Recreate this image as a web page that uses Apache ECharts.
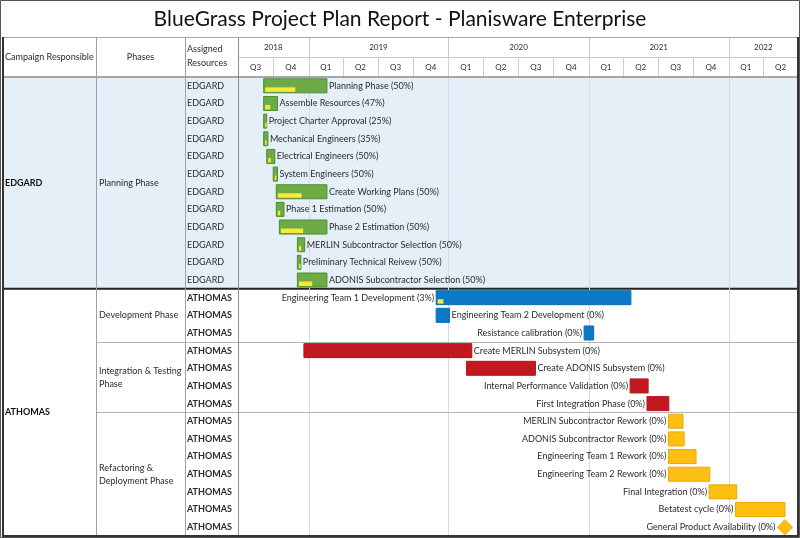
<!DOCTYPE html>
<html><head><meta charset="utf-8">
<script src="https://cdn.jsdelivr.net/npm/echarts@6/dist/echarts.min.js"></script>
<style>html,body{margin:0;padding:0;background:#fff}#main{width:800px;height:538px}</style>
</head><body><div id="main"></div>
<script>
// ---------------- DATA ----------------
const chartTitle = 'BlueGrass Project Plan Report - Planisware Enterprise';
const headerLabels = ['Campaign Responsible', 'Phases', 'Assigned\nResources'];
const taskNames = ['Planning Phase','Assemble Resources','Project Charter Approval','Mechanical Engineers','Electrical Engineers','System Engineers','Create Working Plans','Phase 1 Estimation','Phase 2 Estimation','MERLIN Subcontractor Selection','Preliminary Technical Reivew','ADONIS Subcontractor Selection','Engineering Team 1 Development','Engineering Team 2 Development','Resistance calibration','Create MERLIN Subsystem','Create ADONIS Subsystem','Internal Performance Validation','First Integration Phase','MERLIN Subcontractor Rework','ADONIS Subcontractor Rework','Engineering Team 1 Rework','Engineering Team 2 Rework','Final Integration','Betatest cycle','General Product Availability'];
const resources = ['EDGARD','EDGARD','EDGARD','EDGARD','EDGARD','EDGARD','EDGARD','EDGARD','EDGARD','EDGARD','EDGARD','EDGARD','ATHOMAS','ATHOMAS','ATHOMAS','ATHOMAS','ATHOMAS','ATHOMAS','ATHOMAS','ATHOMAS','ATHOMAS','ATHOMAS','ATHOMAS','ATHOMAS','ATHOMAS','ATHOMAS'];
const startDates = ['2018-09-06','2018-09-06','2018-09-06','2018-09-06','2018-09-14','2018-10-01','2018-10-09','2018-10-09','2018-10-17','2018-12-03','2018-12-03','2018-12-03','2019-11-30','2019-11-30','2020-12-20','2018-12-20','2020-02-17','2021-04-19','2021-06-02','2021-07-28','2021-07-28','2021-07-28','2021-07-28','2021-11-11','2022-01-19','2022-05-28'];
const endDates = ['2019-02-18','2018-10-12','2018-09-13','2018-09-17','2018-10-05','2018-10-12','2019-02-18','2018-10-29','2019-02-18','2018-12-22','2018-12-12','2019-02-18','2021-04-21','2020-01-04','2021-01-14','2020-03-02','2020-08-15','2021-06-05','2021-07-29','2021-09-04','2021-09-07','2021-10-08','2021-11-13','2022-01-22','2022-05-28','2022-05-28'];
const progress = [50,47,25,35,50,50,50,50,50,50,50,50,3,0,0,0,0,0,0,0,0,0,0,0,0,0];
const phaseNames = ['Planning Phase','Development Phase','Integration & Testing\nPhase','Refactoring &\nDeployment Phase'];
const phaseFirstRow = [0, 12, 15, 19];
const phaseLastRow = [11, 14, 18, 25];
const campaigns = ['EDGARD', 'ATHOMAS'];
const campaignFirstRow = [0, 12];
const campaignLastRow = [11, 25];
const yearLabels = ['2018','2019','2020','2021','2022'];
const yearStarts = ['2018-07-01','2019-01-01','2020-01-01','2021-01-01','2022-01-01'];
const yearEnds = ['2019-01-01','2020-01-01','2021-01-01','2022-01-01','2022-07-01'];
const quarterLabels = ['Q3','Q4','Q1','Q2','Q3','Q4','Q1','Q2','Q3','Q4','Q1','Q2','Q3','Q4','Q1','Q2'];
const quarterStarts = ['2018-07-01','2018-10-01','2019-01-01','2019-04-01','2019-07-01','2019-10-01','2020-01-01','2020-04-01','2020-07-01','2020-10-01','2021-01-01','2021-04-01','2021-07-01','2021-10-01','2022-01-01','2022-04-01'];
const quarterEnds = ['2018-10-01','2019-01-01','2019-04-01','2019-07-01','2019-10-01','2020-01-01','2020-04-01','2020-07-01','2020-10-01','2021-01-01','2021-04-01','2021-07-01','2021-10-01','2022-01-01','2022-04-01','2022-07-01'];
const timeMin = '2018-07-01';
const timeMax = '2022-07-01';

// ---------------- STYLE ----------------
const FONT = 'Lato';
const TXT = '#2b2b2b';
const phaseFill = ['#6dab47', '#0b79c4', '#c2181f', '#fdbf12'];
const phaseStroke = ['#4e8c30', '#0a6db0', '#b5141b', '#eaa900'];
const progressFill = '#f7e93a';
const campaignBg = ['#e4eff7', '#ffffff'];
const rightLabelRows = [0,1,2,3,4,5,6,7,8,9,10,11,13,15,16];
const COL = {left: 3, phase: 96, res: 185, time: 238, right: 798};

const ts = d => Date.parse(d + 'T00:00:00Z');
function phaseOf(row) { for (let i = 0; i < phaseFirstRow.length; i++) if (row >= phaseFirstRow[i] && row <= phaseLastRow[i]) return i; return 0; }

const chart = echarts.init(document.getElementById('main'), null, {renderer: 'canvas'});

const taskData = taskNames.map((n, i) => [i, ts(startDates[i]), ts(endDates[i]), progress[i], i]);

const option = {
  animation: false,
  backgroundColor: '#ffffff',
  title: {text: chartTitle, left: 'center', top: 4, textStyle: {fontFamily: FONT, fontSize: 21, fontWeight: 'normal', color: '#111'}},
  grid: [
    {left: COL.time, right: 800 - COL.right, top: 77, bottom: 2},
    {left: COL.time, right: 800 - COL.right, top: 37, height: 40}
  ],
  xAxis: [
    {type: 'time', gridIndex: 0, min: ts(timeMin), max: ts(timeMax), show: false},
    {type: 'time', gridIndex: 1, min: ts(timeMin), max: ts(timeMax), show: false}
  ],
  yAxis: [
    {type: 'category', gridIndex: 0, inverse: true, z: 60, data: taskNames.map((n, i) => String(i)),
     axisLine: {show: false}, axisTick: {show: false}, splitLine: {show: false},
     axisLabel: {interval: 0, margin: COL.time - COL.res - 2, align: 'left', fontFamily: FONT, fontSize: 9, color: TXT,
       formatter: (v, i) => resources[i] === 'ATHOMAS' ? '{b|' + resources[i] + '}' : resources[i],
       rich: {b: {fontFamily: FONT, fontSize: 9, fontWeight: 'bold', color: TXT}}}},
    {type: 'value', gridIndex: 1, min: 0, max: 2, show: false}
  ],
  series: [
    { // campaign bands
      type: 'custom', xAxisIndex: 0, yAxisIndex: 0, z: 1, silent: true,
      data: campaigns.map((c, i) => [campaignFirstRow[i], campaignLastRow[i], i]),
      encode: {y: [0, 1]},
      renderItem(params, api) {
        const i = api.value(2);
        const band = api.size([0, 1])[1];
        const y0 = api.coord([ts(timeMin), api.value(0)])[1] - band / 2;
        const y1 = api.coord([ts(timeMin), api.value(1)])[1] + band / 2;
        const children = [
          {type: 'rect', shape: {x: COL.left + 1, y: y0, width: COL.right - COL.left - 1, height: y1 - y0}, style: {fill: campaignBg[i]}},
          {type: 'text', style: {text: campaigns[i], x: COL.left + 2, y: (y0 + y1) / 2, verticalAlign: 'middle', fontFamily: FONT, fontSize: 9, fontWeight: 'bold', fill: '#111'}}
        ];
        if (i > 0) children.push({type: 'line', shape: {x1: COL.left, y1: y0, x2: COL.right, y2: y0}, style: {stroke: '#222', lineWidth: 2}, z2: 50});
        return {type: 'group', children};
      }
    },
    { // year gridlines
      type: 'custom', xAxisIndex: 0, yAxisIndex: 0, z: 2, silent: true,
      data: yearStarts.slice(1).map(d => [ts(d)]),
      encode: {x: 0},
      renderItem(params, api) {
        const x = Math.round(api.coord([api.value(0), 0])[0]) + 0.5;
        const cs = params.coordSys;
        return {type: 'line', shape: {x1: x, y1: cs.y, x2: x, y2: cs.y + cs.height}, style: {stroke: '#dadada', lineWidth: 1}};
      }
    },
    { // phases
      type: 'custom', xAxisIndex: 0, yAxisIndex: 0, z: 3, silent: true,
      data: phaseNames.map((p, i) => [phaseFirstRow[i], phaseLastRow[i], i]),
      encode: {y: [0, 1]},
      renderItem(params, api) {
        const i = api.value(2);
        const band = api.size([0, 1])[1];
        const y0 = api.coord([ts(timeMin), api.value(0)])[1] - band / 2;
        const y1 = api.coord([ts(timeMin), api.value(1)])[1] + band / 2;
        const children = [
          {type: 'text', style: {text: phaseNames[i], x: COL.phase + 3, y: (y0 + y1) / 2, verticalAlign: 'middle', lineHeight: 13, fontFamily: FONT, fontSize: 9, fill: TXT}}
        ];
        if (i > 0 && campaignFirstRow.indexOf(api.value(0)) < 0) {
          const yy = Math.round(y0) + 0.5;
          children.push({type: 'line', shape: {x1: COL.phase, y1: yy, x2: COL.right, y2: yy}, style: {stroke: '#b4b4b4', lineWidth: 1}});
        }
        return {type: 'group', children};
      }
    },
    { // tasks
      type: 'custom', xAxisIndex: 0, yAxisIndex: 0, z: 5, silent: true,
      data: taskData,
      encode: {x: [1, 2], y: 0},
      renderItem(params, api) {
        const row = api.value(0);
        const i = api.value(4);
        const ph = phaseOf(row);
        const s = api.coord([api.value(1), row]);
        const e = api.coord([api.value(2), row]);
        const yc = s[1];
        const label = taskNames[i] + ' (' + api.value(3) + '%)';
        const children = [];
        if (api.value(2) === api.value(1)) {
          const r = 7.5;
          children.push({type: 'polygon', shape: {points: [[e[0], yc - r], [e[0] + r, yc], [e[0], yc + r], [e[0] - r, yc]]}, style: {fill: phaseFill[ph], stroke: phaseStroke[ph], lineWidth: 1}});
          children.push({type: 'text', style: {text: label, x: e[0] - r - 2, y: yc, align: 'right', verticalAlign: 'middle', fontFamily: FONT, fontSize: 9, fill: TXT}});
        } else {
          const h = 14;
          const w = Math.max(e[0] - s[0], 3);
          children.push({type: 'rect', shape: {x: s[0], y: yc - h / 2, width: w, height: h}, style: {fill: phaseFill[ph], stroke: phaseStroke[ph], lineWidth: 1}});
          const p = api.value(3);
          if (p > 0) {
            const pw = Math.max((w - 3) * p / 100, 1.5);
            children.push({type: 'rect', shape: {x: s[0] + 1.5, y: yc + 1.5, width: pw, height: 4.5}, style: {fill: progressFill}});
          }
          const right = rightLabelRows.indexOf(row) >= 0;
          children.push({type: 'text', style: {text: label, x: right ? s[0] + w + 2 : s[0] - 2, y: yc, align: right ? 'left' : 'right', verticalAlign: 'middle', fontFamily: FONT, fontSize: 9, fill: TXT}});
        }
        return {type: 'group', children};
      }
    },
    { // header years
      type: 'custom', xAxisIndex: 1, yAxisIndex: 1, z: 5, silent: true,
      data: yearLabels.map((y, i) => [ts(yearStarts[i]), ts(yearEnds[i]), i]),
      encode: {x: [0, 1]},
      renderItem(params, api) {
        const a = api.coord([api.value(0), 2]);
        const b = api.coord([api.value(1), 1]);
        const x1 = Math.round(b[0]) + 0.5;
        return {type: 'group', children: [
          {type: 'line', shape: {x1: x1, y1: a[1], x2: x1, y2: b[1]}, style: {stroke: '#c8c8c8', lineWidth: 1}},
          {type: 'line', shape: {x1: a[0], y1: Math.round(b[1]) + 0.5, x2: b[0], y2: Math.round(b[1]) + 0.5}, style: {stroke: '#c8c8c8', lineWidth: 1}},
          {type: 'text', style: {text: yearLabels[api.value(2)], x: (a[0] + b[0]) / 2, y: (a[1] + b[1]) / 2, align: 'center', verticalAlign: 'middle', fontFamily: FONT, fontSize: 8, fill: TXT}}
        ]};
      }
    },
    { // header quarters
      type: 'custom', xAxisIndex: 1, yAxisIndex: 1, z: 5, silent: true,
      data: quarterLabels.map((q, i) => [ts(quarterStarts[i]), ts(quarterEnds[i]), i]),
      encode: {x: [0, 1]},
      renderItem(params, api) {
        const a = api.coord([api.value(0), 1]);
        const b = api.coord([api.value(1), 0]);
        const x1 = Math.round(b[0]) + 0.5;
        return {type: 'group', children: [
          {type: 'line', shape: {x1: x1, y1: a[1], x2: x1, y2: b[1]}, style: {stroke: '#d0d0d0', lineWidth: 1}},
          {type: 'text', style: {text: quarterLabels[api.value(2)], x: (a[0] + b[0]) / 2, y: (a[1] + b[1]) / 2, align: 'center', verticalAlign: 'middle', fontFamily: FONT, fontSize: 8, fill: TXT}}
        ]};
      }
    }
  ],
  graphic: {elements: [
    {type: 'rect', z: 100, silent: true, shape: {x: 0.5, y: 0.5, width: 799, height: 537}, style: {fill: null, stroke: '#555', lineWidth: 1}},
    {type: 'line', z: 100, silent: true, shape: {x1: COL.left, y1: 37.5, x2: COL.right, y2: 37.5}, style: {stroke: '#a8a8a8', lineWidth: 1}},
    {type: 'line', z: 100, silent: true, shape: {x1: COL.left, y1: 77, x2: COL.right, y2: 77}, style: {stroke: '#8c8c8c', lineWidth: 1.5}},
    {type: 'line', z: 100, silent: true, shape: {x1: COL.phase + 0.5, y1: 37, x2: COL.phase + 0.5, y2: 536}, style: {stroke: '#a0a0a0', lineWidth: 1}},
    {type: 'line', z: 100, silent: true, shape: {x1: COL.res + 0.5, y1: 37, x2: COL.res + 0.5, y2: 536}, style: {stroke: '#a0a0a0', lineWidth: 1}},
    {type: 'line', z: 100, silent: true, shape: {x1: COL.time + 0.5, y1: 37, x2: COL.time + 0.5, y2: 536}, style: {stroke: '#8c8c8c', lineWidth: 1}},
    {type: 'line', z: 100, silent: true, shape: {x1: COL.left, y1: 37, x2: COL.left, y2: 537}, style: {stroke: '#333', lineWidth: 2}},
    {type: 'line', z: 100, silent: true, shape: {x1: COL.right, y1: 37, x2: COL.right, y2: 537}, style: {stroke: '#333', lineWidth: 2}},
    {type: 'line', z: 100, silent: true, shape: {x1: COL.left, y1: 536, x2: COL.right, y2: 536}, style: {stroke: '#333', lineWidth: 2}},
    {type: 'text', z: 100, silent: true, style: {text: headerLabels[0], x: COL.left + 2, y: 57, verticalAlign: 'middle', fontFamily: FONT, fontSize: 9, fill: TXT}},
    {type: 'text', z: 100, silent: true, style: {text: headerLabels[1], x: (COL.phase + COL.res) / 2, y: 57, align: 'center', verticalAlign: 'middle', fontFamily: FONT, fontSize: 9, fill: TXT}},
    {type: 'text', z: 100, silent: true, style: {text: headerLabels[2], x: COL.res + 2, y: 56, verticalAlign: 'middle', lineHeight: 14, fontFamily: FONT, fontSize: 9, fill: TXT}}
  ]}
};
chart.setOption(option);
</script>
</body></html>
